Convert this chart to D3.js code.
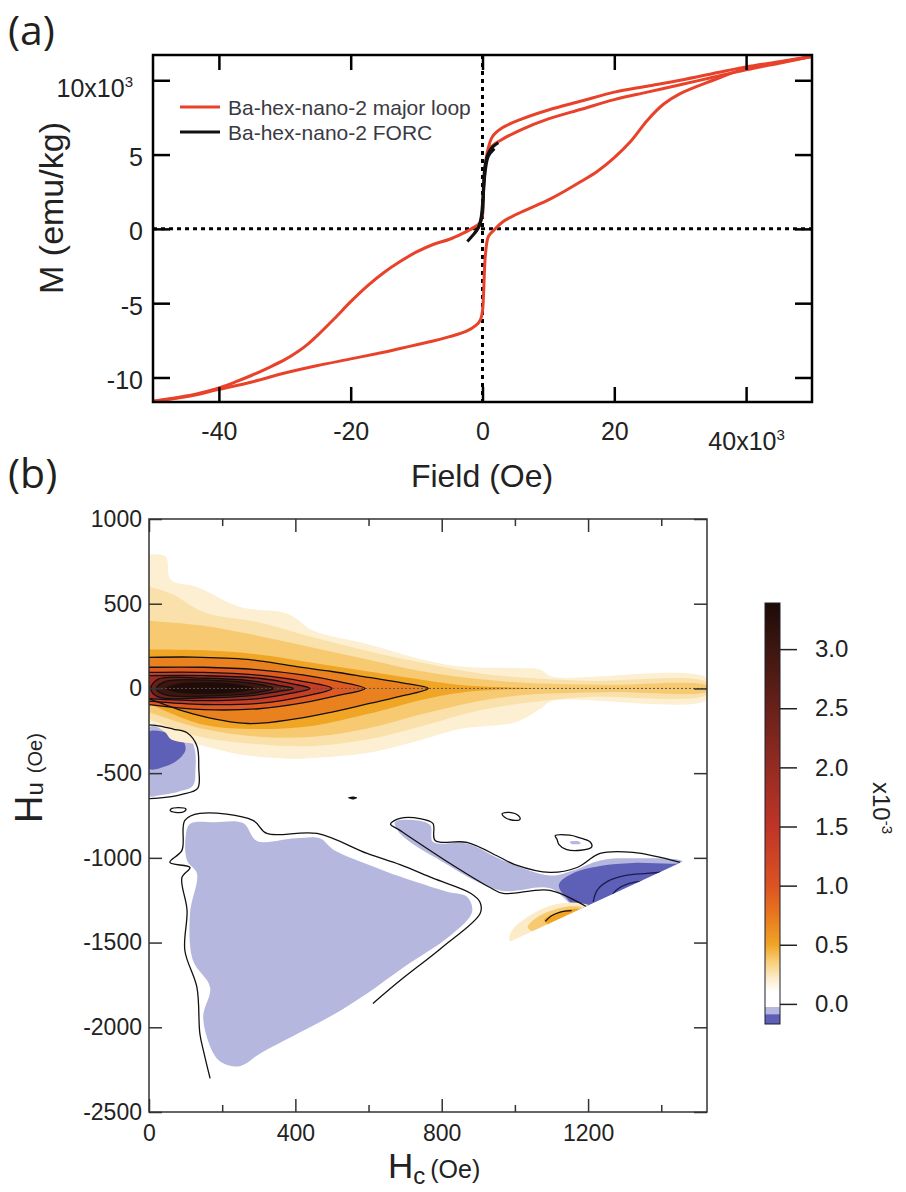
<!DOCTYPE html>
<html>
<head>
<meta charset="utf-8">
<style>
  body { margin: 0; background: #fff; }
  text { font-family: "Liberation Sans", Arial, sans-serif; }
  .panel-label { font-family: "Open Sans", sans-serif; font-size: 41px; fill: #231f20; }
</style>
<script src="https://d3js.org/d3.v7.min.js"></script>
</head>
<body>
<svg width="906" height="1192"></svg>
<script>
// ---------- panel (a): hysteresis, field in 10^3 Oe, M in 10^3 emu/kg
var fieldTicks = [-40, -20, 0, 20, 40];
var momentTicks = [-10, -5, 0, 5, 10];

var descField = [50, 45, 40, 35, 30, 25, 20, 15, 10, 6, 3, 1.5, 0.7, 0.3, 0.1, 0, -0.4, -1.3, -3, -5, -7.5, -10, -12.5, -15, -17.5, -20, -22.5, -25, -26.5, -28, -30, -32.5, -35, -37.5, -40, -42.5, -45, -50];
var descMoment = [11.6, 11.25, 10.9, 10.45, 10.0, 9.6, 9.2, 8.6, 8.0, 7.4, 6.8, 6.2, 5.1, 3.5, 2.0, 0.9, 0.4, 0.1, -0.3, -0.7, -1.05, -1.55, -2.2, -2.95, -3.85, -4.9, -6.05, -7.15, -7.75, -8.25, -8.8, -9.35, -9.85, -10.3, -10.7, -11.0, -11.25, -11.6];

var ascField = [-50, -45, -40, -35, -30, -25, -20, -15, -12.5, -10, -7.5, -5, -2.5, -1, -0.3, 0, 0.15, 0.3, 0.45, 0.9, 1.7, 3, 5, 7.5, 10, 12.5, 15, 17.5, 20, 22.5, 25, 27.5, 30, 35, 40, 45, 50];
var ascMoment = [-11.6, -11.3, -10.8, -10.3, -9.7, -9.2, -8.75, -8.3, -8.05, -7.8, -7.55, -7.25, -6.9, -6.5, -6.1, -5.5, -4.5, -2.8, -1.7, -0.5, -0.1, 0.45, 0.95, 1.45, 1.95, 2.55, 3.2, 3.9, 4.8, 5.9, 7.3, 8.4, 9.1, 10.0, 10.8, 11.2, 11.6];

var recoilField = [0.6, 1.2, 2.7, 6, 10, 15, 20, 25, 30, 35, 40, 45, 50];
var recoilMoment = [4.6, 5.45, 5.95, 6.7, 7.4, 8.05, 8.7, 9.2, 9.7, 10.2, 10.7, 11.15, 11.6];

var forcField1 = [-2.3, -1.5, -0.6, -0.2, 0.05, 0.2, 0.4, 0.8, 1.5, 2.4];
var forcMoment1 = [-0.85, -0.45, 0.1, 0.8, 2.0, 3.3, 4.3, 5.0, 5.5, 5.8];
var forcField2 = [-1.2, -0.4, 0, 0.2, 0.45, 0.9, 1.8];
var forcMoment2 = [-0.3, 0.3, 1.2, 2.8, 4.0, 4.9, 5.4];

// ---------- panel (b): FORC distribution, Hc / Hu in Oe, rho in 10^-3
var hcMajor = [0, 400, 800, 1200];
var hcMinor = [200, 600, 1000, 1400];
var huTicks = [-2500, -2000, -1500, -1000, -500, 0, 500, 1000];
var cbarTicks = [0, 0.5, 1.0, 1.5, 2.0, 2.5, 3.0];

var forcStops = [-0.17, -0.09, -0.089, -0.025, -0.024, 0.1, 0.2, 0.35, 0.5, 0.75, 1.0, 1.5, 2.0, 2.5, 3.0, 3.39];
var forcColors = ["#5d60b6", "#5d60b6", "#b5b7de", "#b5b7de", "#ffffff", "#ffffff", "#fcefd2", "#f8d07e", "#f0a525", "#e8781e", "#dc5222", "#bf3426", "#952b22", "#682119", "#3d1610", "#1c0b08"];

// measured region: Hu >= Hc - 2480
var domainCorners = [[0, 1000], [1525, 1000], [1525, -955], [0, -2480]];

// central ridge bands: level, Hc, upper and lower Hu edge
var ridgeLevels = [0.2, 0.27, 0.37, 0.5, 0.7, 0.95, 1.35, 1.9, 2.5, 3.0, 3.35];
var ridgeHc = [
  [0, 45, 60, 130, 250, 380, 450, 600, 750, 850, 1000, 1070, 1100, 1525],
  [0, 60, 150, 300, 450, 600, 750, 900, 1050, 1200, 1525],
  [0, 150, 300, 450, 600, 750, 900, 1050, 1250, 1525],
  [0, 150, 300, 450, 600, 750, 850, 950, 1050],
  [0, 120, 270, 400, 500, 600, 700, 763],
  [0, 150, 300, 420, 520, 590],
  [0, 150, 300, 420, 500],
  [0, 150, 300, 390, 440],
  [5, 25, 150, 280, 350, 395],
  [20, 45, 190, 290, 340],
  [45, 80, 230, 290]
];
var ridgeTop = [
  [790, 780, 640, 600, 480, 440, 340, 260, 170, 130, 120, 110, 70, 60],
  [600, 560, 450, 390, 300, 220, 150, 90, 60, 45, 35],
  [400, 370, 310, 240, 170, 100, 55, 30, 22, 16],
  [230, 225, 200, 150, 100, 50, 20, 8, 0],
  [183, 185, 171, 130, 100, 65, 30, 0],
  [125, 125, 110, 80, 40, 0],
  [95, 95, 78, 42, 0],
  [75, 75, 60, 28, 0],
  [0, 55, 60, 45, 20, 0],
  [0, 42, 46, 28, 0],
  [0, 28, 28, 0]
];
var ridgeBottom = [
  [-200, -260, -300, -330, -390, -415, -410, -380, -300, -240, -200, -120, -75, -65],
  [-180, -230, -290, -330, -340, -300, -220, -130, -80, -50, -35],
  [-140, -240, -285, -285, -235, -150, -75, -35, -22, -16],
  [-90, -215, -240, -220, -150, -65, -25, -8, 0],
  [-60, -150, -207, -180, -140, -90, -40, 0],
  [-95, -125, -120, -85, -40, 0],
  [-75, -95, -88, -48, 0],
  [-60, -72, -60, -28, 0],
  [0, -50, -55, -42, -20, 0],
  [0, -38, -42, -26, 0],
  [0, -25, -25, 0]
];
var contouredRidges = [4, 5, 6, 7, 8, 9];

// negative lobes (Hc, Hu)
var negLightLeft = [[0, -230], [40, -232], [75, -255], [110, -285], [125, -360], [127, -480], [120, -575], [80, -610], [25, -632], [0, -635], [-20, -430]];
var negDarkLeft = [[0, -255], [50, -262], [90, -300], [100, -360], [80, -420], [45, -460], [0, -475], [-20, -365]];
var negLightMain = [[112, -800], [180, -790], [257, -795], [295, -900], [400, -885], [467, -885], [503, -950], [600, -1040], [686, -1110], [815, -1200], [869, -1230], [883, -1320], [823, -1460], [700, -1640], [596, -1800], [500, -1930], [413, -2030], [300, -2160], [249, -2230], [200, -2210], [175, -2150], [148, -1940], [167, -1765], [120, -1605], [112, -1328], [131, -1092], [104, -1015], [100, -880]];
var negLightBand = [[672, -790], [700, -775], [768, -805], [776, -905], [869, -915], [968, -1015], [1096, -1104], [1159, -1074], [1233, -1015], [1323, -1003], [1460, -1025], [1300, -1200], [1178, -1300], [1096, -1180], [960, -1192], [796, -1015], [686, -856]];
var negDarkBand = [[1120, -1160], [1160, -1090], [1233, -1048], [1323, -1030], [1430, -1035], [1490, -1030], [1180, -1330], [1150, -1260]];
var negSpeck = [[1150, -905], [1175, -903], [1180, -915], [1155, -918]];

// small positive lobe near the lower edge
var posLobeLevels = [0.22, 0.37, 0.5];
var posLobes = [
  [[985, -1470], [995, -1420], [1045, -1335], [1096, -1282], [1142, -1265], [1180, -1268], [1205, -1285], [1190, -1320], [1050, -1440], [990, -1500]],
  [[1035, -1410], [1065, -1345], [1110, -1305], [1150, -1286], [1182, -1292], [1150, -1340], [1060, -1440]],
  [[1080, -1365], [1112, -1325], [1150, -1303], [1174, -1303], [1140, -1345], [1095, -1395]]
];

// contour lines
var zeroLineLeft = [[0, -215], [30, -222], [66, -240], [104, -262], [131, -340], [136, -470], [133, -590], [90, -625], [25, -648], [0, -650]];
var zeroLineMain = [[167, -2302], [150, -2150], [139, -2037], [131, -1765], [98, -1547], [104, -1310], [90, -1116], [112, -1057], [57, -1027], [90, -956], [98, -779], [139, -738], [284, -779], [322, -856], [459, -856], [596, -974], [686, -1040], [776, -1120], [880, -1210], [905, -1263], [905, -1328], [800, -1530], [686, -1724], [612, -1859]];
var zeroLineBand = [[1197, -1290], [1096, -1192], [968, -1210], [932, -1175], [823, -1033], [686, -838], [660, -800], [686, -767], [740, -768], [776, -797], [782, -897], [869, -909], [960, -998], [1000, -1040], [1096, -1086], [1170, -1057], [1233, -974], [1323, -968], [1452, -1027]];
var smallLoops = [
  [[60, -712], [80, -704], [101, -712], [95, -728], [72, -731], [58, -722]],
  [[965, -740], [985, -732], [1010, -752], [1014, -772], [995, -778], [972, -760]],
  [[1110, -870], [1150, -866], [1175, -880], [1205, -905], [1210, -935], [1180, -955], [1140, -950], [1120, -920], [1115, -890]]
];
var blackSpeck = [[544, -645], [556, -638], [569, -645], [558, -655]];
var navyArcs = [
  [[1214, -1260], [1225, -1190], [1252, -1140], [1300, -1105], [1361, -1092], [1400, -1085]],
  [[1262, -1230], [1280, -1185], [1307, -1155], [1340, -1140], [1375, -1133]]
];
var posArc = [[1083, -1375], [1100, -1342], [1124, -1320], [1155, -1312]];

// ================= drawing
var svg = d3.select("svg");
svg.append("rect").attr("width", 906).attr("height", 1192).attr("fill", "#fff");
var defs = svg.append("defs");
var plainNum = function(d) { return String(d); };

// ---------- panel (a)
var xA = d3.scaleLinear().domain([-50, 50]).range([153, 812]);
var yA = d3.scaleLinear().domain([-11.65, 11.7]).range([402, 55]);

defs.append("clipPath").attr("id", "clipA").append("rect")
    .attr("x", 153).attr("y", 55).attr("width", 659).attr("height", 347);

var gA = svg.append("g").attr("clip-path", "url(#clipA)");

gA.append("line")
  .attr("x1", xA(-50)).attr("x2", xA(50)).attr("y1", yA(0)).attr("y2", yA(0))
  .attr("stroke", "#000").attr("stroke-width", 3).attr("stroke-dasharray", "4,4");
gA.append("line")
  .attr("x1", xA(0)).attr("x2", xA(0)).attr("y1", yA(11.7)).attr("y2", yA(-11.65))
  .attr("stroke", "#000").attr("stroke-width", 3).attr("stroke-dasharray", "4,4");

var lineA = d3.line()
    .x(function(d) { return xA(d[0]); })
    .y(function(d) { return yA(d[1]); })
    .curve(d3.curveCatmullRom);

[[descField, descMoment], [ascField, ascMoment], [recoilField, recoilMoment]].forEach(function(s) {
  gA.append("path")
    .attr("d", lineA(d3.zip(s[0], s[1])))
    .attr("fill", "none").attr("stroke", "#e8422b").attr("stroke-width", 3);
});
[[forcField1, forcMoment1], [forcField2, forcMoment2]].forEach(function(s) {
  gA.append("path")
    .attr("d", lineA(d3.zip(s[0], s[1])))
    .attr("fill", "none").attr("stroke", "#111").attr("stroke-width", 3);
});

// ticks pointing inward on all four sides
function styleAxis(g, fontSize) {
  g.attr("font-family", null).attr("font-size", null);
  g.select(".domain").remove();
  g.selectAll("text").attr("font-size", fontSize).attr("fill", "#222");
}
var axBot = svg.append("g").attr("transform", "translate(0,402)")
  .call(d3.axisBottom(xA).tickValues(fieldTicks).tickSize(-15).tickPadding(20).tickFormat(plainNum));
var axTop = svg.append("g").attr("transform", "translate(0,55)")
  .call(d3.axisTop(xA).tickValues(fieldTicks).tickSize(-15).tickFormat(""));
var axLeft = svg.append("g").attr("transform", "translate(153,0)")
  .call(d3.axisLeft(yA).tickValues(momentTicks).tickSize(-17).tickPadding(10).tickFormat(plainNum));
var axRight = svg.append("g").attr("transform", "translate(812,0)")
  .call(d3.axisRight(yA).tickValues(momentTicks).tickSize(-17).tickFormat(""));
[axBot, axTop, axLeft, axRight].forEach(function(g) {
  styleAxis(g, "25px");
  g.selectAll("line").attr("stroke", "#000").attr("stroke-width", 2.5);
});
axLeft.selectAll("text").attr("transform", "translate(0,3)");
axLeft.selectAll("text").filter(function(d) { return d === 10; })
  .attr("x", -20).attr("transform", "translate(0,8)")
  .text("10x10").append("tspan").attr("dy", -10).attr("font-size", "15px").text("3");
axBot.selectAll("text").filter(function(d) { return d === 40; })
  .attr("transform", "translate(0,10)")
  .text("40x10").append("tspan").attr("dy", -10).attr("font-size", "15px").text("3");

svg.append("rect").attr("x", 153).attr("y", 55).attr("width", 659).attr("height", 347)
  .attr("fill", "none").attr("stroke", "#000").attr("stroke-width", 2.5);

// legend
var legend = svg.append("g");
[["Ba-hex-nano-2 major loop", "#e8422b", 107], ["Ba-hex-nano-2 FORC", "#111", 132]].forEach(function(l) {
  legend.append("line").attr("x1", 180).attr("x2", 220).attr("y1", l[2]).attr("y2", l[2])
    .attr("stroke", l[1]).attr("stroke-width", 3);
  legend.append("text").attr("x", 228).attr("y", l[2] + 8)
    .attr("font-size", "21px").attr("fill", "#3a3a44").text(l[0]);
});

svg.append("text").attr("transform", "translate(63,208) rotate(-90)")
  .attr("text-anchor", "middle").attr("font-size", "34px").attr("fill", "#222")
  .text("M (emu/kg)");
svg.append("text").attr("x", 482).attr("y", 487)
  .attr("text-anchor", "middle").attr("font-size", "32px").attr("fill", "#222")
  .text("Field (Oe)");

svg.append("text").attr("class", "panel-label").attr("x", 8).attr("y", 45).text("(a)");
svg.append("text").attr("class", "panel-label").attr("x", 8).attr("y", 488).text("(b)");

// ---------- panel (b)
var xB = d3.scaleLinear().domain([0, 1525]).range([149, 707]);
var yB = d3.scaleLinear().domain([-2500, 1000]).range([1112, 519]);
var color = d3.scaleLinear().domain(forcStops).range(forcColors).clamp(true);

defs.append("clipPath").attr("id", "clipB").append("path")
  .attr("d", d3.line()(domainCorners.map(function(p) { return [xB(p[0]), yB(p[1])]; })) + "Z");

var gB = svg.append("g").attr("clip-path", "url(#clipB)");

var openLine = d3.line()
    .x(function(d) { return xB(d[0]); })
    .y(function(d) { return yB(d[1]); })
    .curve(d3.curveCatmullRom.alpha(0.5));
var closedLine = d3.line()
    .x(function(d) { return xB(d[0]); })
    .y(function(d) { return yB(d[1]); })
    .curve(d3.curveCatmullRomClosed.alpha(0.5));

// negative lobes
[[negLightLeft, -0.05], [negDarkLeft, -0.12], [negLightMain, -0.05], [negLightBand, -0.05],
 [negDarkBand, -0.12], [negSpeck, -0.05]].forEach(function(p) {
  gB.append("path").attr("d", closedLine(p[0])).attr("fill", color(p[1]));
});

// small positive lobe
posLobes.forEach(function(p, i) {
  gB.append("path").attr("d", closedLine(p)).attr("fill", color(posLobeLevels[i]));
});

// ridge bands
function ridgeOutline(hc, top, bot) {
  var pts = hc.map(function(h, i) { return [h, top[i]]; });
  var n = hc.length - 1;
  for (var i = n; i >= 0; i--) {
    if ((i === n || i === 0) && top[i] === bot[i]) continue;
    pts.push([hc[i], bot[i]]);
  }
  return pts;
}
var ridgePaths = ridgeLevels.map(function(lv, i) {
  var pts = ridgeOutline(ridgeHc[i], ridgeTop[i], ridgeBottom[i]);
  var closed = ridgeTop[i][0] === ridgeBottom[i][0];
  return closed ? closedLine(pts) : openLine(pts);
});
ridgeLevels.forEach(function(lv, i) {
  var closed = ridgeTop[i][0] === ridgeBottom[i][0];
  gB.append("path").attr("d", ridgePaths[i] + (closed ? "" : "Z")).attr("fill", color(lv));
});

// dotted Hu = 0 line
gB.append("line").attr("x1", xB(0)).attr("x2", xB(1525)).attr("y1", yB(0)).attr("y2", yB(0))
  .attr("stroke", "#555").attr("stroke-width", 1).attr("stroke-dasharray", "2,2");

// contour lines
contouredRidges.forEach(function(i) {
  gB.append("path").attr("d", ridgePaths[i])
    .attr("fill", "none").attr("stroke", "#111").attr("stroke-width", 1.3);
});
[zeroLineLeft, zeroLineMain, zeroLineBand].forEach(function(p) {
  gB.append("path").attr("d", openLine(p))
    .attr("fill", "none").attr("stroke", "#111").attr("stroke-width", 1.3);
});
smallLoops.forEach(function(p) {
  gB.append("path").attr("d", closedLine(p))
    .attr("fill", "none").attr("stroke", "#111").attr("stroke-width", 1.3);
});
gB.append("path").attr("d", closedLine(blackSpeck)).attr("fill", "#111");
navyArcs.forEach(function(p) {
  gB.append("path").attr("d", openLine(p))
    .attr("fill", "none").attr("stroke", "#1c1c52").attr("stroke-width", 1.3);
});
gB.append("path").attr("d", openLine(posArc))
  .attr("fill", "none").attr("stroke", "#111").attr("stroke-width", 1.3);

// axes of panel (b)
var bBot = svg.append("g").attr("transform", "translate(0,1112)")
  .call(d3.axisBottom(xB).tickValues(hcMajor).tickSize(-13).tickPadding(13).tickFormat(plainNum));
var bBotMinor = svg.append("g").attr("transform", "translate(0,1112)")
  .call(d3.axisBottom(xB).tickValues(hcMinor).tickSize(-7).tickFormat(""));
var bTop = svg.append("g").attr("transform", "translate(0,519)")
  .call(d3.axisTop(xB).tickValues(hcMajor).tickSize(-13).tickFormat(""));
var bTopMinor = svg.append("g").attr("transform", "translate(0,519)")
  .call(d3.axisTop(xB).tickValues(hcMinor).tickSize(-7).tickFormat(""));
var bLeft = svg.append("g").attr("transform", "translate(149,0)")
  .call(d3.axisLeft(yB).tickValues(huTicks).tickSize(-13).tickPadding(7).tickFormat(plainNum));
var bRight = svg.append("g").attr("transform", "translate(707,0)")
  .call(d3.axisRight(yB).tickValues(huTicks).tickSize(-13).tickFormat(""));
[bBot, bBotMinor, bTop, bTopMinor, bLeft, bRight].forEach(function(g) {
  styleAxis(g, "23px");
  g.selectAll("line").attr("stroke", "#333").attr("stroke-width", 1.5);
});

svg.append("rect").attr("x", 149).attr("y", 519).attr("width", 558).attr("height", 593)
  .attr("fill", "none").attr("stroke", "#333").attr("stroke-width", 1.5);

// axis titles
var huTitle = svg.append("text").attr("transform", "translate(42,823) rotate(-90)").attr("fill", "#222");
huTitle.append("tspan").attr("font-size", "38px").text("H");
huTitle.append("tspan").attr("font-size", "24px").attr("dy", 1).text("u");
huTitle.append("tspan").attr("font-size", "20px").attr("dx", 9).attr("dy", -1).text("(Oe)");

var hcTitle = svg.append("text").attr("x", 388).attr("y", 1178).attr("fill", "#222");
hcTitle.append("tspan").attr("font-size", "35px").text("H");
hcTitle.append("tspan").attr("font-size", "24px").attr("dy", 6).text("c");
hcTitle.append("tspan").attr("font-size", "25px").attr("dx", 5).attr("dy", -6).text("(Oe)");

// colour bar
var cbY = d3.scaleLinear().domain([-0.17, 3.39]).range([1024, 603]);
var grad = defs.append("linearGradient").attr("id", "cbGrad")
  .attr("x1", 0).attr("y1", 1).attr("x2", 0).attr("y2", 0);
forcStops.forEach(function(v, i) {
  grad.append("stop").attr("offset", (v + 0.17) / 3.56).attr("stop-color", forcColors[i]);
});
svg.append("rect").attr("x", 765).attr("y", cbY(3.39)).attr("width", 15)
  .attr("height", cbY(-0.17) - cbY(3.39))
  .attr("fill", "url(#cbGrad)").attr("stroke", "#1e1e30").attr("stroke-width", 1);
var cbAxis = svg.append("g").attr("transform", "translate(780,0)")
  .call(d3.axisRight(cbY).tickValues(cbarTicks).tickSize(17).tickPadding(18).tickFormat(d3.format(".1f")));
styleAxis(cbAxis, "24px");
cbAxis.selectAll("line").attr("stroke", "#222").attr("stroke-width", 1.5);

var cbTitle = svg.append("text").attr("transform", "translate(873,782) rotate(90)")
  .attr("font-size", "24px").attr("fill", "#222");
cbTitle.append("tspan").text("x10");
cbTitle.append("tspan").attr("font-size", "15px").attr("dy", -9).text("-3");
</script>
</body>
</html>
